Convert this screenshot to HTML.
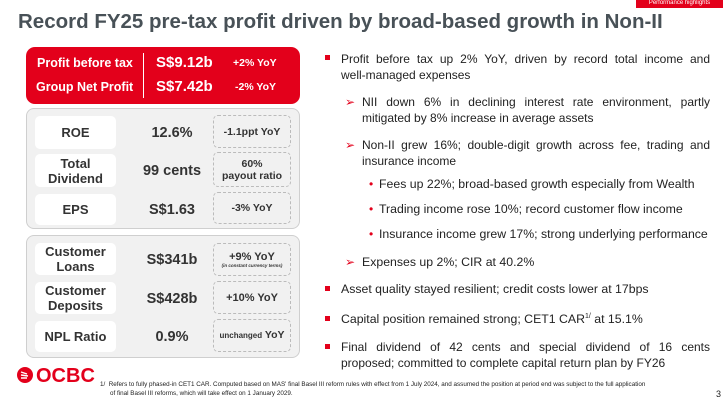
<!DOCTYPE html>
<html><head><meta charset="utf-8"><style>
*{margin:0;padding:0;box-sizing:border-box}
body{width:723px;height:406px;overflow:hidden;background:#fff;font-family:"Liberation Sans",Arial,sans-serif;position:relative;color:#222}
.abs{position:absolute}
.title{left:18px;top:10px;font-size:20.5px;font-weight:bold;color:#485157;white-space:nowrap}
.tab{left:636px;top:0;width:87px;height:8px;background:#e3001b;color:#fff;font-size:6px;text-align:center;line-height:6px;overflow:hidden}
.red{left:26px;top:47px;width:274px;height:57px;background:#e3001b;border-radius:9px;color:#fff;font-weight:bold}
.red .div{position:absolute;left:117px;top:6px;width:1px;height:45px;background:#fff}
.red span{position:absolute;white-space:nowrap}
.panel{left:26px;width:274px;background:#f1f1f1;border:1px solid #cfcfcf;border-radius:8px}
.lab{position:absolute;left:8px;width:81px;background:#fff;border-radius:5px;font-weight:bold;font-size:13px;color:#333;text-align:center;display:flex;align-items:center;justify-content:center;line-height:15px}
.val{position:absolute;left:95px;width:100px;text-align:center;font-weight:bold;font-size:14.5px;color:#333}
.dash{position:absolute;left:186px;width:78px;border:1px dashed #bbb;border-radius:5px;font-weight:bold;font-size:10.5px;color:#333;text-align:center;display:flex;flex-direction:column;align-items:center;justify-content:center;line-height:12px}
.txt{position:absolute;font-size:12.3px;line-height:15.5px;color:#222}
.j{font-size:12px}
.j .l1{text-align:justify;text-align-last:justify;white-space:nowrap}
.j .l2{white-space:nowrap}
.mk{position:absolute;color:#e3001b}
.sq{width:5px;height:5px;background:#e3001b;position:absolute}
.foot{left:100px;top:380px;font-size:6.3px;line-height:9px;color:#222;width:620px}
</style></head><body>
<div class="abs tab">Performance highlights</div>
<div class="abs title">Record FY25 pre-tax profit driven by broad-based growth in Non-II</div>

<div class="abs red">
 <div class="div"></div>
 <span style="left:11px;top:9px;font-size:12.5px">Profit before tax</span>
 <span style="left:130px;top:7px;font-size:15px">S$9.12b</span>
 <span style="left:207px;top:10px;font-size:10.5px">+2% YoY</span>
 <span style="left:10px;top:33px;font-size:12.5px">Group Net Profit</span>
 <span style="left:130px;top:31px;font-size:15px">S$7.42b</span>
 <span style="left:209px;top:34px;font-size:10.5px">-2% YoY</span>
</div>

<div class="abs panel" style="top:108px;height:121px">
 <div class="lab" style="top:7px;height:33px">ROE</div>
 <div class="val" style="top:16px">12.6%</div>
 <div class="dash" style="top:6px;height:33px">-1.1ppt YoY</div>
 <div class="lab" style="top:45px;height:33px">Total<br>Dividend</div>
 <div class="val" style="top:54px">99 cents</div>
 <div class="dash" style="top:43px;height:35px"><div>60%</div><div>payout ratio</div></div>
 <div class="lab" style="top:85px;height:31px">EPS</div>
 <div class="val" style="top:93px">S$1.63</div>
 <div class="dash" style="top:83px;height:32px">-3% YoY</div>
</div>

<div class="abs panel" style="top:235px;height:123px">
 <div class="lab" style="top:7px;height:32px">Customer<br>Loans</div>
 <div class="val" style="top:16px">S$341b</div>
 <div class="dash" style="top:7px;height:33px;font-size:11px"><div>+9% YoY</div><div style="font-size:4.5px;font-style:italic;line-height:6px">(in constant currency terms)</div></div>
 <div class="lab" style="top:46px;height:32px">Customer<br>Deposits</div>
 <div class="val" style="top:55px">S$428b</div>
 <div class="dash" style="top:45px;height:33px;font-size:11px">+10% YoY</div>
 <div class="lab" style="top:85px;height:31px">NPL Ratio</div>
 <div class="val" style="top:93px">0.9%</div>
 <div class="dash" style="top:83px;height:33px"><div><span style="font-size:8px">unchanged</span> YoY</div></div>
</div>

<div class="abs" style="left:14px;top:364px;width:85px;height:22px">
 <svg width="85" height="22"><circle cx="11" cy="11" r="8" fill="#e3001b"/><path d="M7 8 L13 10 M7 11 L14 12 M7 14 L13 14" stroke="#fff" stroke-width="1.4"/><text x="22" y="18" font-family="Liberation Sans" font-weight="bold" font-size="20" fill="#e3001b">OCBC</text></svg>
</div>

<div class="abs foot">1/&nbsp; Refers to fully phased-in CET1 CAR. Computed based on MAS' final Basel III reform rules with effect from 1 July 2024, and assumed the position at period end was subject to the full application<br><span style="padding-left:10px">of final Basel III reforms, which will take effect on 1 January 2029.</span></div>
<div class="abs" style="left:716px;top:389px;font-size:9px">3</div>

<div>
 <div class="sq" style="left:325px;top:55px"></div>
 <div class="txt j" style="left:341px;top:52px;width:369px"><div class="l1">Profit before tax up 2% YoY, driven by record total income and</div><div class="l2">well-managed expenses</div></div>
 <div class="mk" style="left:345px;top:95px;font-size:12px">➢</div>
 <div class="txt j" style="left:362px;top:95px;width:348px"><div class="l1">NII down 6% in declining interest rate environment, partly</div><div class="l2">mitigated by 8% increase in average assets</div></div>
 <div class="mk" style="left:345px;top:138px;font-size:12px">➢</div>
 <div class="txt j" style="left:362px;top:138px;width:348px"><div class="l1">Non-II grew 16%; double-digit growth across fee, trading and</div><div class="l2">insurance income</div></div>
 <div class="mk" style="left:369px;top:177px;font-size:12px">•</div>
 <div class="txt" style="left:379px;top:177px;white-space:nowrap">Fees up 22%; broad-based growth especially from Wealth</div>
 <div class="mk" style="left:369px;top:202px;font-size:12px">•</div>
 <div class="txt" style="left:379px;top:202px;white-space:nowrap">Trading income rose 10%; record customer flow income</div>
 <div class="mk" style="left:369px;top:227px;font-size:12px">•</div>
 <div class="txt" style="left:379px;top:227px;white-space:nowrap">Insurance income grew 17%; strong underlying performance</div>
 <div class="mk" style="left:345px;top:255px;font-size:12px">➢</div>
 <div class="txt" style="left:362px;top:255px;white-space:nowrap">Expenses up 2%; CIR at 40.2%</div>
 <div class="sq" style="left:325px;top:286px"></div>
 <div class="txt" style="left:341px;top:282px;white-space:nowrap">Asset quality stayed resilient; credit costs lower at 17bps</div>
 <div class="sq" style="left:325px;top:316px"></div>
 <div class="txt" style="left:341px;top:312px;white-space:nowrap">Capital position remained strong; CET1 CAR<span style="font-size:7px;position:relative;top:-5px;line-height:0">1/</span> at 15.1%</div>
 <div class="sq" style="left:325px;top:344px"></div>
 <div class="txt j" style="left:341px;top:340px;width:369px"><div class="l1">Final dividend of 42 cents and special dividend of 16 cents</div><div class="l2">proposed; committed to complete capital return plan by FY26</div></div>
</div>
</body></html>
